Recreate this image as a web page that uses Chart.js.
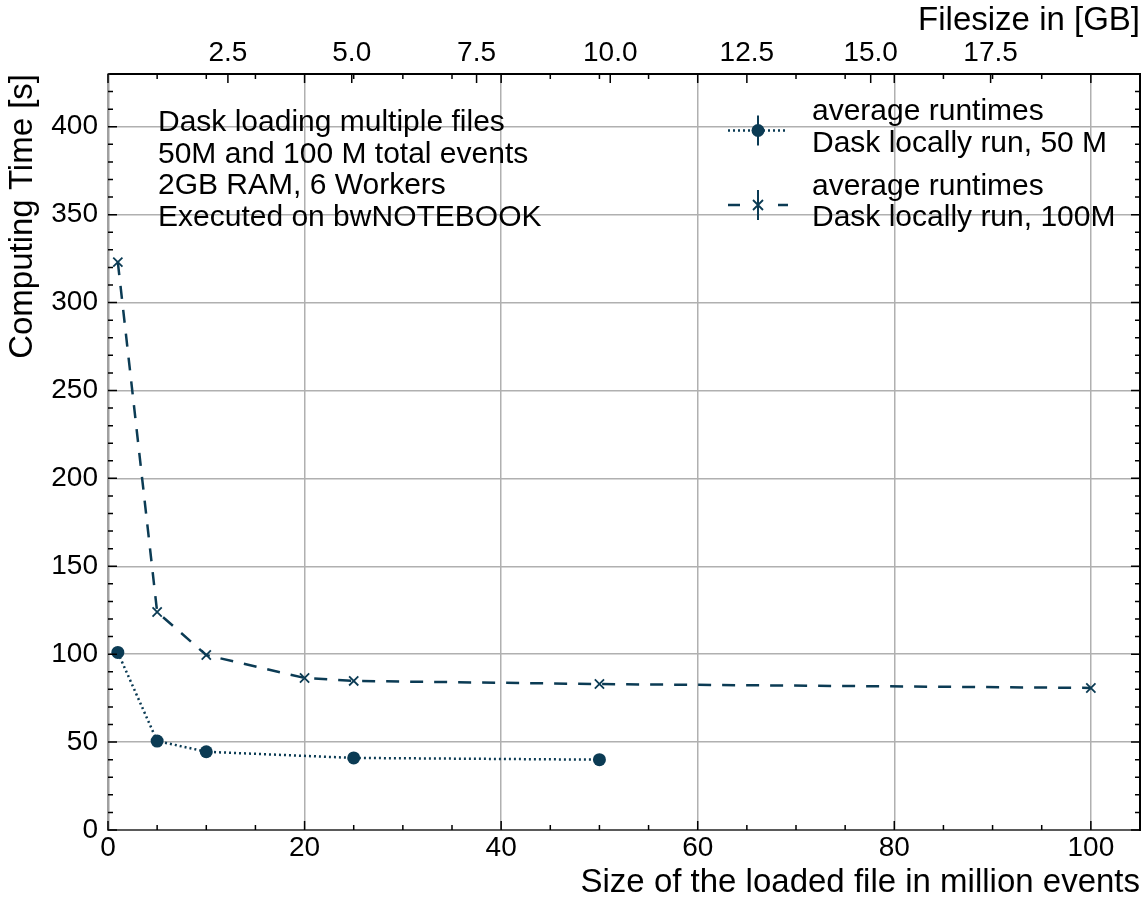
<!DOCTYPE html>
<html>
<head>
<meta charset="utf-8">
<script src="https://cdn.jsdelivr.net/npm/chart.js@4.4.1/dist/chart.umd.min.js"></script>
<style>
  html, body { margin: 0; padding: 0; background: #fff; }
</style>
</head>
<body>
<canvas id="grafico-tiempos" width="1148" height="899"></canvas>
<script>
/* Datos */
const eventos50 = [1, 5, 10, 25, 50];
const tiempos50 = [101, 50.6, 44.5, 41, 40];
const eventos100 = [1, 5, 10, 20, 25, 50, 100];
const tiempos100 = [323, 124, 99.5, 86.5, 84.8, 83, 80.8];

const ticksX = [0, 20, 40, 60, 80, 100];
const ticksY = [0, 50, 100, 150, 200, 250, 300, 350, 400];
const gbEtiquetas = ['2.5', '5.0', '7.5', '10.0', '12.5', '15.0', '17.5'];
const gbPosiciones = [12.2, 24.8, 37.5, 51.1, 65.0, 77.6, 89.8]; // en millones de eventos

const nombres = [
    ['average runtimes', 'Dask locally run, 50 M'],
    ['average runtimes', 'Dask locally run, 100M']
];
const textoInfo = [
    'Dask loading multiple files',
    '50M and 100 M total events',
    '2GB RAM, 6 Workers',
    'Executed on bwNOTEBOOK'
];

const colorSerie = '#0b3b54';
const fuente = 'Liberation Sans, Arial, sans-serif';

/* Marcas hacia dentro, texto y leyenda */
const extras = {
    id: 'extras',
    afterDraw(chart) {
        const ctx = chart.ctx;
        const a = chart.chartArea;
        const sx = chart.scales.x, sy = chart.scales.y, sx2 = chart.scales.x2;
        ctx.save();
        ctx.strokeStyle = '#000';
        ctx.lineWidth = 1.5;
        ctx.beginPath();
        for (let v = 0; v <= 105; v += 5) {
            const px = sx.getPixelForValue(v);
            const l = v % 20 === 0 ? 9 : 5;
            ctx.moveTo(px, a.bottom); ctx.lineTo(px, a.bottom - l);
            ctx.moveTo(px, a.top); ctx.lineTo(px, a.top + l);
        }
        gbPosiciones.forEach(v => {
            const px = sx2.getPixelForValue(v);
            ctx.moveTo(px, a.top); ctx.lineTo(px, a.top + 9);
        });
        for (let v = 0; v <= 430; v += 10) {
            const py = sy.getPixelForValue(v);
            const l = v % 50 === 0 ? 9 : 5;
            ctx.moveTo(a.left, py); ctx.lineTo(a.left + l, py);
            ctx.moveTo(a.right, py); ctx.lineTo(a.right - l, py);
        }
        ctx.stroke();

        // bloque de texto
        ctx.fillStyle = '#000';
        ctx.font = '30px ' + fuente;
        ctx.textBaseline = 'middle';
        ctx.textAlign = 'left';
        textoInfo.forEach((t, i) => ctx.fillText(t, 158, 123 + i * 31.5));

        // leyenda
        const filas = [130.5, 205];
        filas.forEach((y, i) => {
            ctx.strokeStyle = colorSerie;
            ctx.fillStyle = colorSerie;
            ctx.lineWidth = 2.5;
            ctx.setLineDash(i === 0 ? [2, 3] : [12, 38]);
            ctx.beginPath();
            ctx.moveTo(728, y); ctx.lineTo(788, y);
            ctx.stroke();
            ctx.setLineDash([]);
            ctx.lineWidth = 2;
            ctx.beginPath();
            ctx.moveTo(758, y - 15); ctx.lineTo(758, y + 15);
            ctx.stroke();
            if (i === 0) {
                ctx.beginPath();
                ctx.arc(758, y, 6.5, 0, Math.PI * 2);
                ctx.fill();
            } else {
                ctx.lineWidth = 1.8;
                ctx.beginPath();
                ctx.moveTo(753, y - 5); ctx.lineTo(763, y + 5);
                ctx.moveTo(753, y + 5); ctx.lineTo(763, y - 5);
                ctx.stroke();
            }
            ctx.fillStyle = '#000';
            ctx.font = '30px ' + fuente;
            ctx.fillText(nombres[i][0], 812, y - 18.5);
            ctx.fillText(nombres[i][1], 812, y + 13);
        });
        ctx.restore();
    }
};

const marco = document.getElementById('grafico-tiempos').getContext('2d');

const grafico = new Chart(marco, {
    type: 'line',
    data: {
        datasets: [
            {
                label: nombres[0].join(' '),
                data: eventos50.map((x, i) => ({ x: x, y: tiempos50[i] })),
                borderColor: colorSerie,
                backgroundColor: colorSerie,
                borderWidth: 2.5,
                borderDash: [2, 3],
                pointStyle: 'circle',
                pointRadius: 6.5,
                pointBorderWidth: 0,
                fill: false,
                tension: 0
            },
            {
                label: nombres[1].join(' '),
                data: eventos100.map((x, i) => ({ x: x, y: tiempos100[i] })),
                borderColor: colorSerie,
                backgroundColor: colorSerie,
                borderWidth: 2.5,
                borderDash: [13, 11],
                pointStyle: 'crossRot',
                pointRadius: 6.5,
                pointBorderWidth: 1.8,
                fill: false,
                tension: 0
            }
        ]
    },
    options: {
        responsive: false,
        animation: false,
        events: [],
        layout: { padding: 0, autoPadding: false },
        plugins: {
            legend: { display: false },
            tooltip: { enabled: false }
        },
        scales: {
            x: {
                type: 'linear',
                position: 'bottom',
                min: 0,
                max: 105,
                afterBuildTicks: s => { s.ticks = ticksX.map(v => ({ value: v })); },
                afterFit: s => { s.height = 69; },
                grid: { color: '#b0b0b0', lineWidth: 1.5, drawTicks: false },
                border: { display: true, color: '#5a5a5a', width: 2 },
                ticks: { color: '#000', padding: 1, maxRotation: 0, font: { family: fuente, size: 28 } },
                title: {
                    display: true,
                    text: 'Size of the loaded file in million events',
                    align: 'end',
                    color: '#000',
                    padding: 0,
                    font: { family: fuente, size: 33, lineHeight: 1 }
                }
            },
            x2: {
                type: 'linear',
                position: 'top',
                min: 0,
                max: 105,
                afterBuildTicks: s => { s.ticks = gbPosiciones.map(v => ({ value: v })); },
                afterFit: s => { s.height = 74; },
                grid: { display: false, drawTicks: false },
                border: { display: true, color: '#000', width: 2 },
                ticks: {
                    color: '#000',
                    padding: 4,
                    maxRotation: 0,
                    autoSkip: false,
                    font: { family: fuente, size: 28 },
                    callback: (v, i) => gbEtiquetas[i]
                },
                title: {
                    display: true,
                    text: 'Filesize in [GB]',
                    align: 'end',
                    color: '#000',
                    padding: { top: 4, bottom: 0 },
                    font: { family: fuente, size: 33, lineHeight: 1 }
                }
            },
            y: {
                type: 'linear',
                position: 'left',
                min: 0,
                max: 430,
                afterBuildTicks: s => { s.ticks = ticksY.map(v => ({ value: v })); },
                afterFit: s => { s.width = 108; },
                grid: { color: '#b0b0b0', lineWidth: 1.5, drawTicks: false },
                border: { display: true, color: '#a0a0a0', width: 2.5 },
                ticks: { color: '#000', padding: 10, font: { family: fuente, size: 28 } },
                title: {
                    display: true,
                    text: 'Computing Time [s]',
                    align: 'end',
                    color: '#000',
                    padding: { top: 6, bottom: 0 },
                    font: { family: fuente, size: 33, lineHeight: 1 }
                }
            },
            y2: {
                type: 'linear',
                position: 'right',
                min: 0,
                max: 430,
                afterFit: s => { s.width = 8; },
                grid: { display: false, drawTicks: false },
                border: { display: true, color: '#000', width: 2 },
                ticks: { display: false }
            }
        }
    },
    plugins: [extras]
});
</script>
</body>
</html>
